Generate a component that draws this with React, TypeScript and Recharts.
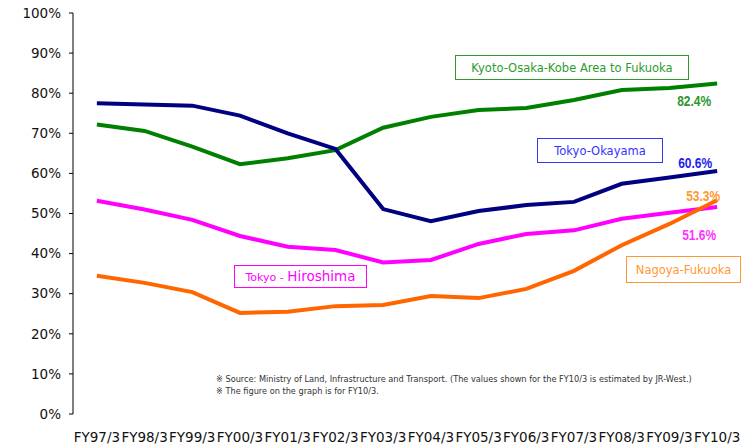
import React from 'react';
import { LineChart, Line, XAxis, YAxis, ReferenceDot } from 'recharts';

// fiscal years on the x axis
const YEARS = ['FY97/3','FY98/3','FY99/3','FY00/3','FY01/3','FY02/3','FY03/3','FY04/3','FY05/3','FY06/3','FY07/3','FY08/3','FY09/3','FY10/3'];

// rail share (%) per route
const KYOTO_FUKUOKA = [72.2, 70.6, 66.7, 62.3, 63.8, 65.8, 71.4, 74.1, 75.8, 76.3, 78.3, 80.8, 81.3, 82.4];
const TOKYO_OKAYAMA = [77.5, 77.2, 76.9, 74.4, 70.0, 66.1, 51.1, 48.1, 50.6, 52.1, 52.9, 57.4, 59.0, 60.6];
const TOKYO_HIROSHIMA = [53.2, 51.0, 48.4, 44.4, 41.7, 40.9, 37.8, 38.4, 42.4, 44.9, 45.8, 48.7, 50.2, 51.6];
const NAGOYA_FUKUOKA = [34.5, 32.7, 30.4, 25.2, 25.5, 26.9, 27.2, 29.4, 28.9, 31.2, 35.7, 42.1, 47.4, 53.3];

const Y_TICKS = [0, 10, 20, 30, 40, 50, 60, 70, 80, 90, 100];

const NOTES = [
  '※ Source: Ministry of Land, Infrastructure and Transport. (The values shown for the FY10/3 is estimated by JR-West.)',
  '※ The figure on the graph is for FY10/3.',
];

const data = YEARS.map((name, i) => ({
  i, name,
  kyoto: KYOTO_FUKUOKA[i],
  okayama: TOKYO_OKAYAMA[i],
  hiroshima: TOKYO_HIROSHIMA[i],
  nagoya: NAGOYA_FUKUOKA[i],
}));

// labels at category centres, tick marks on the boundaries
const centreTicks = YEARS.map((_, i) => i);
const boundaryTicks = [...YEARS.map((_, i) => i - 0.5), YEARS.length - 0.5];
const last = YEARS.length - 1;

const FONT = "'DejaVu Sans', Verdana, sans-serif";
const ARIAL = "'Liberation Sans', Arial, sans-serif";

// FY10/3 value written next to the end of each line
function endLabel(value: number, color: string, dx: number, dy: number) {
  return (p: any) => {
    const vb = p.viewBox || {};
    const cx = vb.x + (vb.width || 0) / 2;
    const cy = vb.y + (vb.height || 0) / 2;
    return (
      <text x={cx + dx} y={cy + dy} fill={color} fontSize={14} fontWeight="bold"
        fontFamily={ARIAL} textAnchor="middle" dominantBaseline="central"
        textLength={34} lengthAdjust="spacingAndGlyphs">
        {`${value.toFixed(1)}%`}
      </text>
    );
  };
}

const box = (left: number, top: number, width: number, height: number, color: string): React.CSSProperties => ({
  position: 'absolute', left, top, width, height, boxSizing: 'border-box',
  border: `1.5px solid ${color}`, color, background: '#fff',
  display: 'flex', alignItems: 'center', justifyContent: 'center',
  fontFamily: FONT, fontSize: 11.5, whiteSpace: 'nowrap',
});

export default function App() {
  return (
    <div style={{ position: 'absolute', left: 0, top: 0, width: 747, height: 446, background: '#fff' }}>
      <LineChart width={747} height={446} data={data} margin={{ top: 13, right: 6, bottom: 2, left: 0 }}>
        <XAxis xAxisId="ticks" type="number" dataKey="i" domain={[-0.5, YEARS.length - 0.5]}
          ticks={boundaryTicks} interval={0} tick={false} mirror tickSize={5} height={0} stroke="#000" />
        <XAxis xAxisId="labels" type="number" dataKey="i" domain={[-0.5, YEARS.length - 0.5]}
          ticks={centreTicks} interval={0} axisLine={false} tickLine={false} height={30}
          tickSize={6} tickMargin={12} tickFormatter={(i: number) => YEARS[i]}
          tick={{ fontSize: 13.5, fill: '#111', fontFamily: FONT }} />
        <YAxis domain={[0, 100]} ticks={Y_TICKS} interval={0} width={73} tickSize={4} tickMargin={8}
          stroke="#000" tickFormatter={(v: number) => `${v}%`}
          tick={{ fontSize: 13.5, fill: '#111', fontFamily: FONT }} />
        <Line xAxisId="ticks" type="linear" dataKey="kyoto" stroke="#008000" strokeWidth={4} dot={false}
          isAnimationActive={false} />
        <Line xAxisId="ticks" type="linear" dataKey="okayama" stroke="#000080" strokeWidth={4} dot={false}
          isAnimationActive={false} />
        <Line xAxisId="ticks" type="linear" dataKey="hiroshima" stroke="#FF00FF" strokeWidth={4} dot={false}
          isAnimationActive={false} />
        <Line xAxisId="ticks" type="linear" dataKey="nagoya" stroke="#FF6600" strokeWidth={4} dot={false}
          isAnimationActive={false} />
        <ReferenceDot xAxisId="ticks" x={last} y={KYOTO_FUKUOKA[last]} r={0} stroke="none" fill="none"
          label={endLabel(KYOTO_FUKUOKA[last], '#2E962E', -23, 17)} />
        <ReferenceDot xAxisId="ticks" x={last} y={TOKYO_OKAYAMA[last]} r={0} stroke="none" fill="none"
          label={endLabel(TOKYO_OKAYAMA[last], '#2222EE', -22, -8)} />
        <ReferenceDot xAxisId="ticks" x={last} y={TOKYO_HIROSHIMA[last]} r={0} stroke="none" fill="none"
          label={endLabel(TOKYO_HIROSHIMA[last], '#FF33FF', -18, 28)} />
        <ReferenceDot xAxisId="ticks" x={last} y={NAGOYA_FUKUOKA[last]} r={0} stroke="none" fill="none"
          label={endLabel(NAGOYA_FUKUOKA[last], '#FF9933', -14, -4)} />
      </LineChart>

      <div style={box(455, 55, 234, 25, '#2E9A2E')}>Kyoto-Osaka-Kobe Area to Fukuoka</div>
      <div style={box(537, 138, 126, 25, '#3333FF')}>Tokyo-Okayama</div>
      <div style={box(626, 256, 115, 27, '#FF9933')}>Nagoya-Fukuoka</div>
      <div style={{ ...box(234, 265, 133, 23, '#FF00FF'), alignItems: 'baseline', paddingTop: 2 }}>
        <span style={{ fontSize: 11 }}>Tokyo -&nbsp;</span>
        <span style={{ fontSize: 13.5 }}>Hiroshima</span>
      </div>

      <div style={{ position: 'absolute', left: 216, top: 373, fontFamily: FONT, fontSize: 8.2, color: '#333', lineHeight: '12px', whiteSpace: 'nowrap' }}>
        {NOTES.map(n => <div key={n}>{n}</div>)}
      </div>
    </div>
  );
}
